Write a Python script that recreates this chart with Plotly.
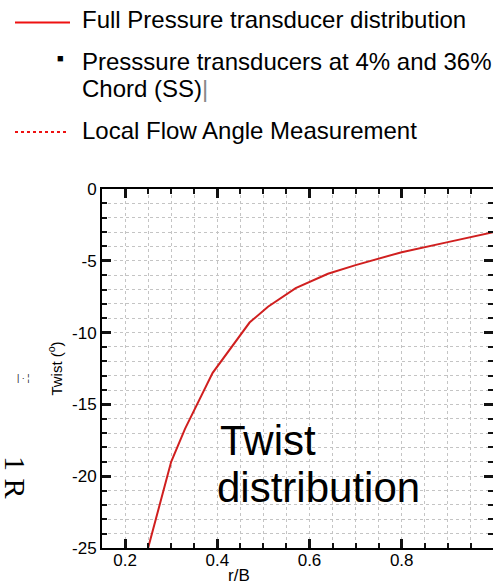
import plotly.graph_objects as go

# Blade twist distribution (full pressure transducer set)
r_over_R = [0.25, 0.30, 0.33, 0.39, 0.47, 0.51, 0.57, 0.64, 0.70, 0.80, 0.90, 1.00]
twist_deg = [-25.0, -19.0, -16.7, -12.8, -9.3, -8.2, -6.9, -5.9, -5.3, -4.4, -3.7, -3.0]

x_ticks = [0.2, 0.4, 0.6, 0.8, 1.0]
y_ticks = [-25, -20, -15, -10, -5, 0]
x_minor_step, y_minor_step = 0.05, 1

W, H = 493, 586
L, R, T, B = 102, 0, 189, 38
PW, PH = W - L - R, H - T - B

SANS = "Liberation Sans, Arial, Helvetica, sans-serif"
SERIF = "Liberation Serif, Times New Roman, serif"
RED = "#d01f1f"
GRID = "#c4c4c4"


def px(x):
    return (x - L) / PW


def py(y):
    return (H - B - y) / PH


fig = go.Figure()
fig.add_trace(go.Scatter(
    x=r_over_R, y=twist_deg, mode="lines",
    line=dict(color=RED, width=2), showlegend=False,
))

common = dict(
    tickmode="array",
    ticks="inside", ticklen=9, tickwidth=2.5, tickcolor="#111",
    showline=True, linewidth=2, linecolor="black", mirror="allticks",
    tickfont=dict(size=17, color="black", family=SANS),
    showgrid=True, gridcolor=GRID, gridwidth=1, griddash="dot",
    zeroline=False, automargin=False,
)
fig.update_xaxes(
    range=[0.15, 0.998], tickvals=x_ticks, ticktext=[f"{v:g}" for v in x_ticks],
    ticklabelstandoff=-4,
    minor=dict(dtick=x_minor_step, tick0=0, ticks="inside", ticklen=5, tickwidth=1.5,
               tickcolor="#111", showgrid=True, gridcolor=GRID, griddash="dot"),
    **common,
)
fig.update_yaxes(
    range=[-25, 0], tickvals=y_ticks, ticktext=[f"{v:d}" for v in y_ticks],
    minor=dict(dtick=y_minor_step, tick0=0, ticks="inside", ticklen=5, tickwidth=1.5,
               tickcolor="#111", showgrid=True, gridcolor=GRID, griddash="dot"),
    title=dict(text="Twist (<sup>o</sup>)", font=dict(size=15, color="black", family=SANS), standoff=6),
    **common,
)

ann = []


def text(x, y, s, size, family=SANS, angle=0, anchor="left", color="black"):
    ann.append(dict(x=px(x), y=py(y), xref="paper", yref="paper", text=s,
                    showarrow=False, xanchor=anchor, yanchor="middle",
                    textangle=angle, font=dict(size=size, family=family, color=color)))


# Series key above the plot
text(80, 19, "Full Pressure transducer distribution", 24)
text(80, 61, "Presssure transducers at 4% and 36%", 24)
text(80, 88, "Chord (SS)<span style='color:#8a8a8a'>|</span>", 24)
text(80, 130, "Local Flow Angle Measurement", 24)
text(60, 58, "■", 11, anchor="center")

# Caption inside the plot
text(218, 440, "Twist", 42)
text(215, 487, "distribution", 42)

# x-axis title
text(239, 575, "r/B", 17, anchor="center")

# Side labels
text(16, 477, "1 R", 30, family=SERIF, angle=90, anchor="center")
text(23, 378, "| · ¦", 9, anchor="center", color="#222")

shapes = [
    dict(type="line", xref="paper", yref="paper", x0=px(15), x1=px(70), y0=py(22.5), y1=py(22.5),
         line=dict(color="#ee1111", width=2)),
    dict(type="line", xref="paper", yref="paper", x0=px(15), x1=px(67), y0=py(132), y1=py(132),
         line=dict(color="#ee1111", width=2, dash="dot")),
]

fig.update_layout(
    width=W, height=H, margin=dict(l=L, r=R, t=T, b=B, autoexpand=False),
    paper_bgcolor="white", plot_bgcolor="white",
    annotations=ann, shapes=shapes, showlegend=False,
)

fig.write_html("out.html")
